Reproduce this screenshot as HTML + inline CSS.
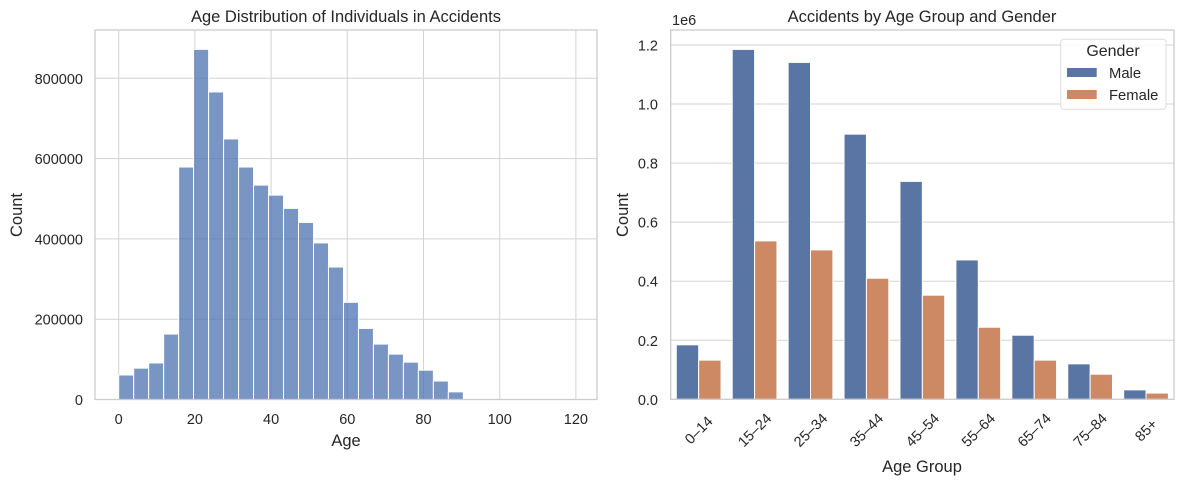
<!DOCTYPE html>
<html><head><meta charset="utf-8"><style>
body{margin:0;background:#fff;}
svg{display:block;font-family:"Liberation Sans",Arial,sans-serif;}
</style></head><body>
<svg id="chart" width="1183" height="484" viewBox="0 0 1183 484"></svg>
<script>
const histCounts=[61000,78000,91000,163000,579000,872000,766000,649000,579000,534000,509000,476000,441000,390000,330000,242000,177000,138000,113000,93000,73000,46000,19000,1500,600,300,150,80,40,20];
const histBinStart=0;
const histBinWidth=3.933;
const leftYTicks=[0,200000,400000,600000,800000];
const leftXTicks=[0,20,40,60,80,100,120];
const groups=["0–14","15–24","25–34","35–44","45–54","55–64","65–74","75–84","85+"];
const maleVals=[0.1845,1.185,1.141,0.898,0.738,0.472,0.217,0.120,0.032];
const femaleVals=[0.1326,0.5365,0.506,0.410,0.3526,0.244,0.1326,0.085,0.021];
const rightYTicks=[0,0.2,0.4,0.6,0.8,1.0,1.2];

const NS="http://www.w3.org/2000/svg";
const svg=document.getElementById('chart');
function el(tag,attrs,parent,text){const e=document.createElementNS(NS,tag);for(const k in attrs)e.setAttribute(k,attrs[k]);if(text!==undefined)e.textContent=text;(parent||svg).appendChild(e);return e;}
const TXT="#262626",GRID="#d3d3d3",FRAME="#cccccc";
const TICK=14.5,TITLE=16.5,AX=16.5;

// LEFT
const L={x0:95,x1:597,y0:30,y1:399.5};
const lx=v=>118.7+v*(76.2/20);
const ly=v=>399.5-v*(80.3/200000);
let g=el('g',{},svg);

leftXTicks.forEach(t=>{
 const l=el('line',{x1:lx(t),x2:lx(t),y1:L.y0,y2:L.y1,stroke:GRID,'stroke-width':1},g);
 
 const tx=el('text',{x:lx(t),y:424,'font-size':TICK,fill:TXT,'text-anchor':'middle'},g,String(t));
 
});
leftYTicks.forEach(t=>{
 const l=el('line',{x1:L.x0,x2:L.x1,y1:ly(t),y2:ly(t),stroke:GRID,'stroke-width':1},g);
 
 const tx=el('text',{x:83,y:ly(t)+5.5,'font-size':TICK,fill:TXT,'text-anchor':'end'},g,String(t));
 
});
histCounts.forEach((c,i)=>{
 const a=histBinStart+i*histBinWidth;
 const r=el('rect',{x:lx(a),y:ly(c),width:lx(a+histBinWidth)-lx(a),height:ly(0)-ly(c),fill:'#4c72b0','fill-opacity':0.75,stroke:'#fff','stroke-width':1},g);
 
});
let f=el('rect',{x:L.x0,y:L.y0,width:L.x1-L.x0,height:L.y1-L.y0,fill:'none',stroke:FRAME,'stroke-width':1.3},g);

let t=el('text',{x:346,y:22,'font-size':TITLE,fill:TXT,'text-anchor':'middle'},g,'Age Distribution of Individuals in Accidents');

t=el('text',{x:346,y:446,'font-size':AX,fill:TXT,'text-anchor':'middle'},g,'Age');

t=el('text',{x:22,y:215,'font-size':AX,fill:TXT,'text-anchor':'middle',transform:'rotate(-90 22 215)'},g,'Count');


// RIGHT
const R={x0:670.7,x1:1174,y0:30,y1:399.3};
const unit=(R.x1-R.x0)/groups.length;
const rc=i=>R.x0+unit*(i+0.5);
const ry=v=>399.3-v*(59.05/0.2);
let g2=el('g',{},svg);

rightYTicks.forEach(v=>{
 const l=el('line',{x1:R.x0,x2:R.x1,y1:ry(v),y2:ry(v),stroke:GRID,'stroke-width':1},g2);
 
 const tx=el('text',{x:658,y:ry(v)+5.5,'font-size':TICK,fill:TXT,'text-anchor':'end'},g2,v.toFixed(1));
 
});
const bw=unit*0.4;
groups.forEach((gname,i)=>{
 const m=el('rect',{x:rc(i)-bw,y:ry(maleVals[i]),width:bw,height:ry(0)-ry(maleVals[i]),fill:'#5875a4',stroke:'#fff','stroke-width':1},g2);
 
 const fe=el('rect',{x:rc(i),y:ry(femaleVals[i]),width:bw,height:ry(0)-ry(femaleVals[i]),fill:'#cc8963',stroke:'#fff','stroke-width':1},g2);
 
 const tx=el('text',{x:rc(i),y:435,'font-size':TICK,fill:TXT,'text-anchor':'middle',transform:`rotate(-45 ${rc(i)} 430)`},g2,gname);
 
});
f=el('rect',{x:R.x0,y:R.y0,width:R.x1-R.x0,height:R.y1-R.y0,fill:'none',stroke:FRAME,'stroke-width':1.3},g2);

t=el('text',{x:922,y:22,'font-size':TITLE,fill:TXT,'text-anchor':'middle'},g2,'Accidents by Age Group and Gender');

t=el('text',{x:672,y:25,'font-size':TICK,fill:TXT},g2,'1e6');

t=el('text',{x:922,y:472,'font-size':AX,fill:TXT,'text-anchor':'middle'},g2,'Age Group');

t=el('text',{x:628,y:215,'font-size':AX,fill:TXT,'text-anchor':'middle',transform:'rotate(-90 628 215)'},g2,'Count');


// legend
let lg=el('g',{},g2);

let lb=el('rect',{x:1060.7,y:39.3,width:105.3,height:70,rx:3,fill:'#fff','fill-opacity':0.85,stroke:'#dddddd','stroke-width':1},lg);

t=el('text',{x:1113,y:56,'font-size':16,fill:TXT,'text-anchor':'middle'},lg,'Gender');

let p=el('rect',{x:1067,y:68,width:29.7,height:9,fill:'#5875a4'},lg);

t=el('text',{x:1109,y:78,'font-size':14.8,fill:TXT},lg,'Male');

p=el('rect',{x:1067,y:90,width:29.7,height:9,fill:'#cc8963'},lg);

t=el('text',{x:1109,y:100,'font-size':14.8,fill:TXT},lg,'Female');

</script>
</body></html>
